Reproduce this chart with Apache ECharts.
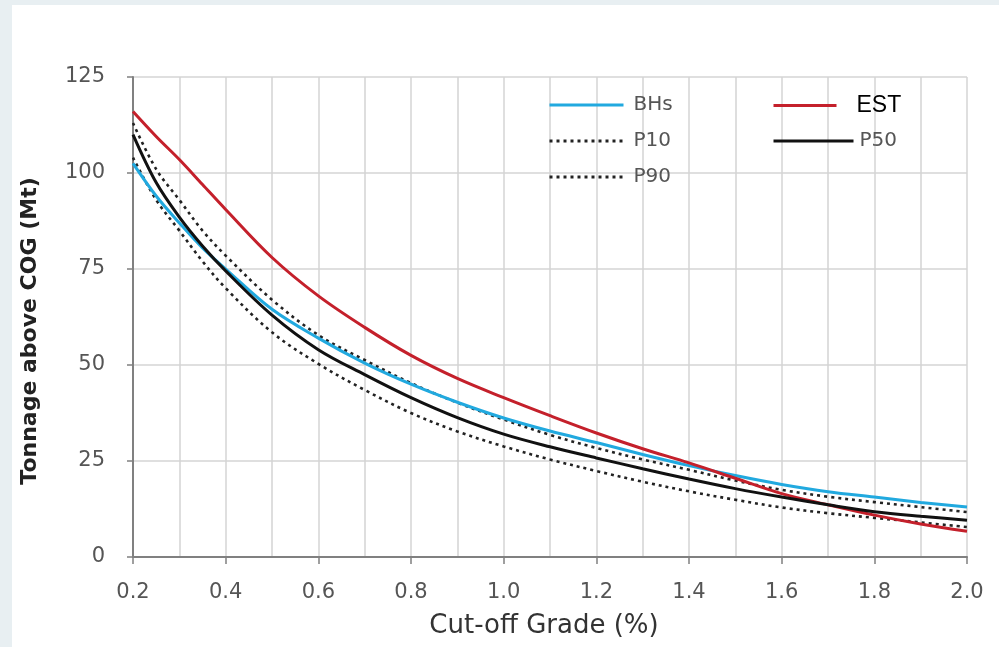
<!DOCTYPE html>
<html>
<head>
<meta charset="utf-8">
<script src="https://cdn.jsdelivr.net/npm/echarts@6/dist/echarts.min.js"></script>
<style>
  html, body { margin: 0; padding: 0; background: #e8eff2; }
  #panel { position: absolute; left: 12px; top: 5px; width: 987px; height: 642px; background: #ffffff; }
  #chart { position: absolute; left: 0; top: 0; width: 999px; height: 647px; }
</style>
</head>
<body>
<div id="panel"></div>
<div id="chart"></div>
<script>
const grades = [0.2, 0.25, 0.3, 0.35, 0.4, 0.5, 0.6, 0.7, 0.8, 0.9, 1.0, 1.1, 1.2, 1.3, 1.4, 1.5, 1.6, 1.7, 1.8, 1.9, 2.0];
const bhs = [102.5, 94, 87, 80.5, 75, 64.5, 57, 50.5, 45, 40.3, 36.2, 32.8, 29.8, 26.7, 23.8, 21.2, 18.9, 17.0, 15.6, 14.2, 13.0];
const p10 = [104, 93, 85, 77, 70, 58.5, 50.3, 43.5, 37.5, 32.7, 28.8, 25.4, 22.4, 19.6, 17.1, 14.9, 12.9, 11.4, 10.2, 9.0, 7.8];
const p90 = [113, 101, 93, 85, 78.5, 67, 57.8, 51.3, 45.3, 40.2, 35.8, 31.8, 28.4, 25.4, 22.7, 19.9, 17.5, 15.7, 14.3, 13.0, 11.7];
const est = [116, 109.5, 103.5, 97, 90.5, 78, 68, 59.8, 52.5, 46.5, 41.5, 36.8, 32.3, 28.2, 24.5, 20.5, 16.5, 13.6, 10.9, 8.6, 6.7];
const p50 = [110, 97.5, 88.5, 81, 74.5, 63, 54, 47.5, 41.5, 36.3, 32, 28.7, 25.8, 23.0, 20.3, 17.8, 15.6, 13.6, 11.8, 10.6, 9.6];
const xTitle = 'Cut-off Grade (%)';
const yTitle = 'Tonnage above COG (Mt)';

const pairs = arr => grades.map((g, i) => [g, arr[i]]);
const chart = echarts.init(document.getElementById('chart'), null, { renderer: 'canvas' });

const labelFont = { fontFamily: 'DejaVu Sans', fontSize: 21, color: '#555' };
const legendText = { fontFamily: 'DejaVu Sans', fontSize: 20, color: '#555', lineHeight: 20, padding: [0, 0, 0, 5] };

const solid = (name, data, color, w) => ({
  name, type: 'line', data: pairs(data), smooth: 0.35, symbol: 'none',
  lineStyle: { color, width: w }, itemStyle: { color }, z: 3
});
const dotted = (name, data) => ({
  name, type: 'line', data: pairs(data), smooth: 0.35, symbol: 'none',
  lineStyle: { color: '#222', width: 2.6, type: [3, 4], cap: 'butt' }, itemStyle: { color: '#222' }, z: 2
});

const legendBase = {
  orient: 'vertical', padding: 0, itemHeight: 14, itemGap: 16,
  itemStyle: { opacity: 0 }, lineStyle: { width: 3 }, textStyle: legendText
};

chart.setOption({
  backgroundColor: 'transparent',
  animation: false,
  grid: { left: 133, right: 32, top: 77, bottom: 90 },
  xAxis: {
    type: 'value', min: 0.2, max: 2.0, interval: 0.2,
    name: xTitle, nameLocation: 'middle', nameGap: 56,
    nameTextStyle: { fontFamily: 'DejaVu Sans', fontSize: 26, color: '#333', padding: [0, 12, 0, 0] },
    axisLine: { show: true, lineStyle: { color: '#808080', width: 2 } },
    axisTick: { show: true, inside: false, length: 7, lineStyle: { color: '#808080', width: 1.5 } },
    axisLabel: Object.assign({ margin: 25, formatter: v => v.toFixed(1) }, labelFont),
    splitLine: { show: true, lineStyle: { color: '#d4d4d4', width: 1.5 } },
    minorTick: { show: false, splitNumber: 2 },
    minorSplitLine: { show: true, lineStyle: { color: '#d4d4d4', width: 1.5 } }
  },
  yAxis: {
    type: 'value', min: 0, max: 125, interval: 25,
    name: yTitle, nameLocation: 'middle', nameGap: 92,
    nameTextStyle: { fontFamily: 'DejaVu Sans', fontWeight: 'bold', fontSize: 22, color: '#222', padding: [0, 28, 0, 0] },
    axisLine: { show: true, lineStyle: { color: '#808080', width: 2 } },
    axisTick: { show: true, inside: false, length: 6, lineStyle: { color: '#808080', width: 1.5 } },
    axisLabel: Object.assign({ margin: 28 }, labelFont),
    splitLine: { show: true, lineStyle: { color: '#d4d4d4', width: 1.5 } }
  },
  legend: [
    Object.assign({}, legendBase, { data: ['BHs', 'P10', 'P90'], left: 548, top: 95, itemWidth: 74 }),
    Object.assign({}, legendBase, {
      data: [{ name: 'EST', textStyle: { fontFamily: 'Liberation Sans', fontSize: 23, color: '#000', padding: [0, 0, 0, 15] } }],
      left: 772, top: 94, itemWidth: 63
    }),
    Object.assign({}, legendBase, {
      data: [{ name: 'P50', textStyle: { fontFamily: 'DejaVu Sans', fontSize: 20, color: '#555', padding: [0, 0, 0, 1] } }],
      left: 772, top: 131, itemWidth: 80
    })
  ],
  series: [
    solid('BHs', bhs, '#21a9df', 3),
    dotted('P10', p10),
    dotted('P90', p90),
    solid('EST', est, '#c4202b', 3),
    solid('P50', p50, '#111111', 3)
  ]
});
</script>
</body>
</html>
